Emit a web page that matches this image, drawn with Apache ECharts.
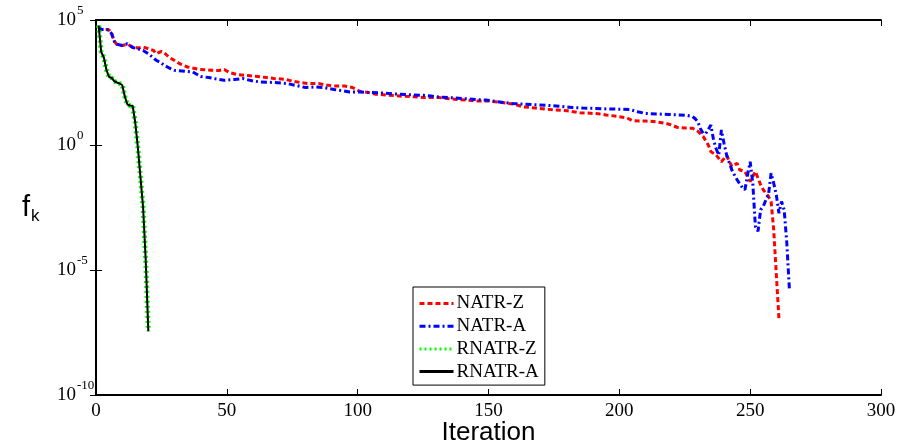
<!DOCTYPE html>
<html><head><meta charset="utf-8">
<script src="https://cdn.jsdelivr.net/npm/echarts@6/dist/echarts.min.js"></script>
<style>html,body{margin:0;padding:0;background:#fff}#c{width:898px;height:443px}</style>
</head><body><div id="c"></div>
<script>
// x axis tick values and y axis decades (log10 of f_k)
const xTicks = [0, 50, 100, 150, 200, 250, 300];
const yTickExponents = [-10, -5, 0, 5];
const seriesNames = ['NATR-Z', 'NATR-A', 'RNATR-Z', 'RNATR-A'];

// NATR-Z : iteration and log10(f_k)
const natrZIter = [1,2,3,4,5,6,7,8,10,12,14,16,18,20,22,23,24,25,26,27,28,30,32,35,39,44,47,49,51,54,58,61,65,68,72,75,78,81,85,88,91,95,98,101,104,107,112,117,121,125,131,134,138,142,146,150,155,160,163,168,172,176,180,185,189,193,195,199,203,205,210,214,218,220,222,225,228,230,232,234,235,237,239,241,243,245,246,248,250,252,254,255,257,258,259,260,261];
const natrZLog = [4.72,4.62,4.62,4.62,4.60,4.45,4.15,4.02,3.98,4.03,3.92,3.88,3.92,3.85,3.78,3.65,3.70,3.74,3.70,3.60,3.50,3.38,3.25,3.12,3.03,2.99,2.98,3.02,2.90,2.82,2.78,2.75,2.70,2.66,2.63,2.56,2.50,2.46,2.46,2.40,2.36,2.36,2.30,2.14,2.10,2.03,1.99,1.95,1.93,1.90,1.90,1.86,1.82,1.79,1.76,1.76,1.70,1.63,1.53,1.48,1.43,1.40,1.37,1.29,1.27,1.24,1.20,1.15,1.08,0.97,0.96,0.93,0.86,0.80,0.71,0.68,0.67,0.55,0.35,0.00,-0.27,-0.40,-0.67,-0.42,-0.86,-0.73,-1.00,-1.06,-1.46,-1.06,-1.59,-1.79,-2.06,-2.26,-3.40,-5.20,-6.95];

// NATR-A : iteration and log10(f_k)
const natrAIter = [1,2,3,4,5,6,7,8,10,12,14,16,18,20,22,23,25,26,28,30,34,37,40,43,45,49,53,56,60,63,68,73,76,80,84,87,91,94,97,101,105,109,112,116,120,125,128,131,136,140,145,149,153,159,164,168,172,177,182,186,191,196,201,204,207,210,215,219,223,226,228,229,230,231,232,233,234,235,236,237,238,239,240,241,242,243,244,245,246,247,248,249,250,251,252,253,254,255,256,257,258,259,260,261,262,263,264,265];
const natrALog = [4.72,4.62,4.62,4.62,4.60,4.45,4.15,4.03,3.98,4.05,3.90,3.85,3.78,3.65,3.48,3.39,3.28,3.19,3.08,2.99,2.95,2.92,2.74,2.70,2.66,2.59,2.62,2.66,2.56,2.52,2.50,2.46,2.39,2.30,2.32,2.30,2.22,2.18,2.12,2.12,2.10,2.08,2.06,2.03,2.01,1.99,1.96,1.92,1.89,1.86,1.82,1.80,1.74,1.66,1.63,1.61,1.59,1.55,1.50,1.48,1.46,1.44,1.43,1.42,1.33,1.26,1.24,1.22,1.20,1.18,1.14,1.05,0.93,0.65,0.47,0.45,0.62,0.80,0.20,-0.15,-0.40,0.60,0.07,-0.40,-0.70,-1.00,-1.20,-1.39,-1.55,-1.70,-1.79,-1.20,-0.67,-1.53,-3.26,-3.45,-2.59,-2.46,-2.20,-1.99,-1.13,-1.53,-2.00,-2.73,-2.26,-2.60,-3.92,-5.78];

// RNATR-Z / RNATR-A : iteration and log10(f_k)
const rnatrZIter = [1,2,3,4,5,6,7,8,9,10,11,12,13,14,15,16,17,18,19,20];
const rnatrZLog = [4.78,3.72,3.50,3.00,2.72,2.68,2.55,2.50,2.46,2.40,1.95,1.62,1.58,1.57,0.90,-0.10,-1.30,-2.50,-4.60,-7.45];
const rnatrAIter = [1,2,3,4,5,6,7,8,9,10,11,12,13,14,15,16,17,18,19,20];
const rnatrALog = [4.78,3.72,3.50,3.00,2.72,2.68,2.55,2.50,2.46,2.40,1.95,1.62,1.58,1.57,0.90,-0.10,-1.30,-2.50,-4.60,-7.45];

function pairs(it, lg) { return it.map((x, i) => [x, Math.pow(10, lg[i])]); }

const chart = echarts.init(document.getElementById('c'), null, {renderer: 'canvas'});
const serif = 'Liberation Serif';
const axisLineStyle = {color: '#000', width: 2};
const yMin = Math.pow(10, yTickExponents[0]);
const yMax = Math.pow(10, yTickExponents[yTickExponents.length - 1]);

chart.setOption({
  animation: false,
  backgroundColor: '#fff',
  grid: {left: 96, right: 17, top: 20, bottom: 48, containLabel: false, outerBoundsMode: 'none'},
  legend: {
    orient: 'vertical', left: 413, top: 287,
    data: seriesNames,
    itemWidth: 34, itemHeight: 14, itemGap: 3.7,
    padding: [7, 6, 4, 5],
    borderColor: '#000', borderWidth: 1, backgroundColor: '#fff',
    itemStyle: {opacity: 0},
    lineStyle: {width: 3},
    textStyle: {fontFamily: serif, fontSize: 19, color: '#000', padding: [0, 0, 0, -2]}
  },
  xAxis: [{
    type: 'value', min: xTicks[0], max: xTicks[xTicks.length - 1], interval: xTicks[1] - xTicks[0],
    axisLine: {lineStyle: axisLineStyle},
    axisTick: {inside: true, length: 6, lineStyle: {color: '#000', width: 1}},
    splitLine: {show: false},
    axisLabel: {color: '#000', fontFamily: serif, fontSize: 19, margin: 7},
    name: 'Iteration', nameLocation: 'middle', nameGap: 25, nameMoveOverlap: false,
    nameTextStyle: {fontFamily: 'Liberation Sans', fontSize: 26, color: '#000'}
  }, {
    type: 'value', position: 'top', min: xTicks[0], max: xTicks[xTicks.length - 1], interval: xTicks[1] - xTicks[0],
    axisLine: {lineStyle: axisLineStyle},
    axisTick: {inside: true, length: 6, lineStyle: {color: '#000', width: 1}},
    splitLine: {show: false}, axisLabel: {show: false}
  }],
  yAxis: [{
    type: 'log', logBase: 10, min: yMin, max: yMax, interval: 5,
    axisLine: {show: true, lineStyle: axisLineStyle},
    axisTick: {show: true, inside: true, length: 6, lineStyle: {color: '#000', width: 1}},
    minorTick: {show: false}, splitLine: {show: false},
    axisLabel: {
      align: 'left', margin: 39,
      formatter: v => '{b|10}{s|' + Math.round(Math.log10(v)) + '}',
      rich: {
        b: {fontFamily: serif, fontSize: 19, lineHeight: 19, padding: [6, 0, 6, 0], color: '#000'},
        s: {fontFamily: serif, fontSize: 13, lineHeight: 13, padding: [0, 0, 18, 1], color: '#000'}
      }
    }
  }, {
    type: 'log', logBase: 10, min: yMin, max: yMax, interval: 5, position: 'right',
    axisLine: {show: true, lineStyle: axisLineStyle},
    axisTick: {show: true, inside: true, length: 6, lineStyle: {color: '#000', width: 1}},
    minorTick: {show: false}, splitLine: {show: false}, axisLabel: {show: false}
  }],
  graphic: [{
    type: 'text', left: 22, top: 190,
    style: {
      text: '{f|f}{k|k}',
      rich: {
        f: {fontFamily: 'Liberation Sans', fontSize: 29, color: '#000', lineHeight: 29},
        k: {fontFamily: 'Liberation Sans', fontSize: 17, color: '#000', lineHeight: 17, padding: [18, 0, 0, 1]}
      }
    }
  }],
  series: [
    {name: seriesNames[0], type: 'line', symbol: 'none', data: pairs(natrZIter, natrZLog),
     lineStyle: {color: '#ff0000', width: 3, type: [5, 3]}, itemStyle: {color: '#ff0000'}},
    {name: seriesNames[1], type: 'line', symbol: 'none', data: pairs(natrAIter, natrALog),
     lineStyle: {color: '#0000ff', width: 3, type: [6, 3, 2, 3]}, itemStyle: {color: '#0000ff'}},
    {name: seriesNames[2], type: 'line', symbol: 'none', data: pairs(rnatrZIter, rnatrZLog),
     lineStyle: {color: '#00ff00', width: 5, type: [2, 3]}, itemStyle: {color: '#00ff00'}},
    {name: seriesNames[3], type: 'line', symbol: 'none', data: pairs(rnatrAIter, rnatrALog),
     lineStyle: {color: '#000000', width: 2, type: 'solid'}, itemStyle: {color: '#000000'}}
  ]
});
</script></body></html>
